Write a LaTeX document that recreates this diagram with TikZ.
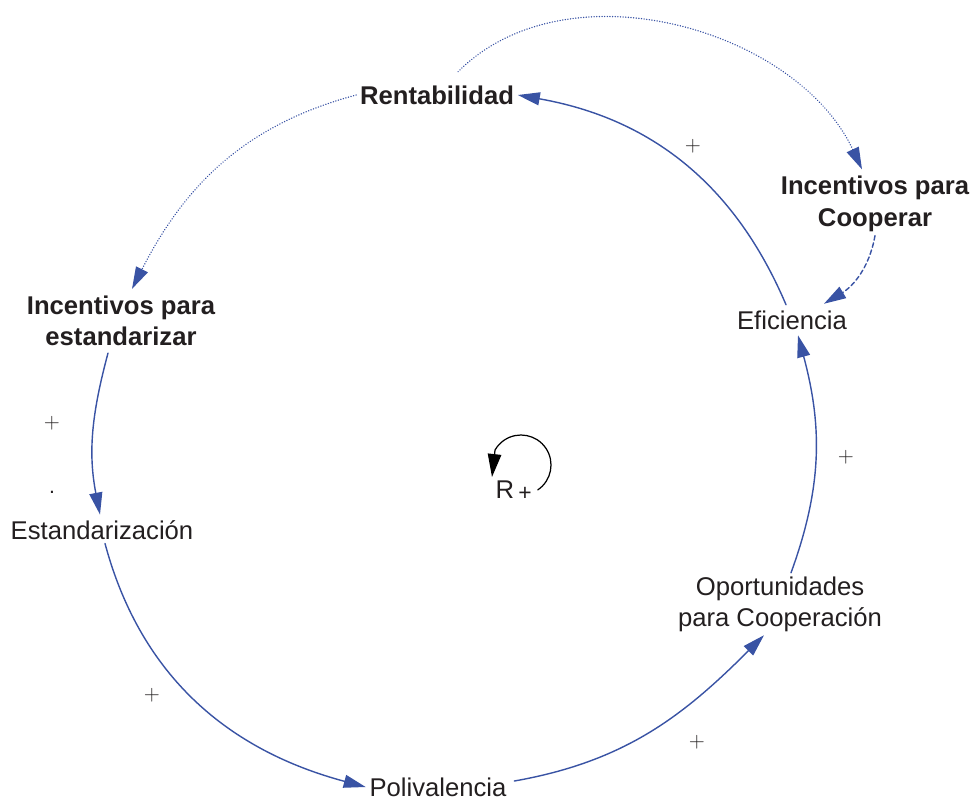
\documentclass[tikz,border=0pt]{standalone}
\usepackage{fontspec}
\setmainfont{Liberation Sans}
\usetikzlibrary{calc,arrows.meta}

\definecolor{azul}{RGB}{57,83,164}
\definecolor{tinta}{RGB}{35,31,32}

\begin{document}
\begin{tikzpicture}[x=0.02cm, y=0.02cm, >={Triangle[length=0.44cm,width=0.26cm]},
  line cap=round, line join=round, font=\fontsize{14.6}{17.5}\selectfont, text=tinta]

  \useasboundingbox (0,0) rectangle (973,-799);

  % ===== estilos =====
  \tikzset{
    var/.style={inner sep=2pt, align=center},
    varb/.style={var, font=\fontsize{14.6}{18}\selectfont\bfseries},
    signo/.style={inner sep=0pt, font=\fontsize{12}{14}\selectfont},
    enlace/.style={->, azul, line width=0.8pt},
    punteado/.style={enlace, line width=0.8pt, dash pattern=on 0.1pt off 1.4pt},
    discontinuo/.style={enlace, dash pattern=on 2.6pt off 1.6pt}
  }

  % ===== variables =====
  \node[varb] (rent) at (437,-95)  {Rentabilidad};
  \node[varb] (ipc)  at (875,-204) {Incentivos para\\Cooperar};
  \node[var]  (eff)  at (792,-320) {Eficiencia};
  \node[varb] (ies)  at (121,-321) {Incentivos para\\estandarizar};
  \node[var]  (est)  at (102,-530) {Estandarización};
  \node[var]  (pol)  at (438,-787) {Polivalencia};
  \node[var]  (opc)  at (780,-604) {Oportunidades\\para Cooperación};

  % ===== enlaces =====
  \draw[enlace] ($(eff.north)+(-6,2)$) to[out=113,in=-10] (rent.east);
  \draw[punteado] ($(rent.north)+(21,10)$) to[out=45,in=115,looseness=0.95] ($(ipc.north)+(-13,3)$);
  \draw[punteado] (rent.west) to[out=195,in=63] ($(ies.north)+(11,3)$);
  \draw[discontinuo] (ipc.south) to[out=-100,in=31] ($(eff.north)+(32,3)$);
  \draw[enlace] ($(ies.south)+(-13,-3)$) to[out=-105,in=101] ($(est.north)+(-2,2)$);
  \draw[enlace] ($(est.south)+(3,0)$) to[out=-75,in=165] (pol.west);
  \draw[enlace] ($(pol.east)+(4,6)$) to[out=10,in=-135] ($(opc.south)+(-16,0)$);
  \draw[enlace] ($(opc.north)+(11,0)$) to[out=70,in=-75] ($(eff.south)+(6,-2)$);

  % ---- signos ----
  \node[signo] (s1) at (693,-146) {$+$};
  \node[signo] (s2) at (52,-423)  {$+$};
  \node[signo] (s3) at (846,-457) {$+$};
  \node[signo] (s4) at (152,-695) {$+$};
  \node[signo] (s5) at (697,-742) {$+$};
  \node[signo] (punto) at (52,-492) {.};

  % ---- bucle R ----
  \coordinate (bucle) at (521,-465);
  \draw[-{Triangle[length=0.46cm,width=0.27cm]}, black, line width=0.7pt]
    (bucle) ++(-56:30) arc[start angle=-56, end angle=150, radius=30] -- (492,-477);
  \node[inner sep=0pt] (r) at (505,-490) {R};
  \node[inner sep=0pt, font=\fontsize{13}{15}\selectfont] (rmas) at (525,-494) {+};

\end{tikzpicture}
\end{document}
